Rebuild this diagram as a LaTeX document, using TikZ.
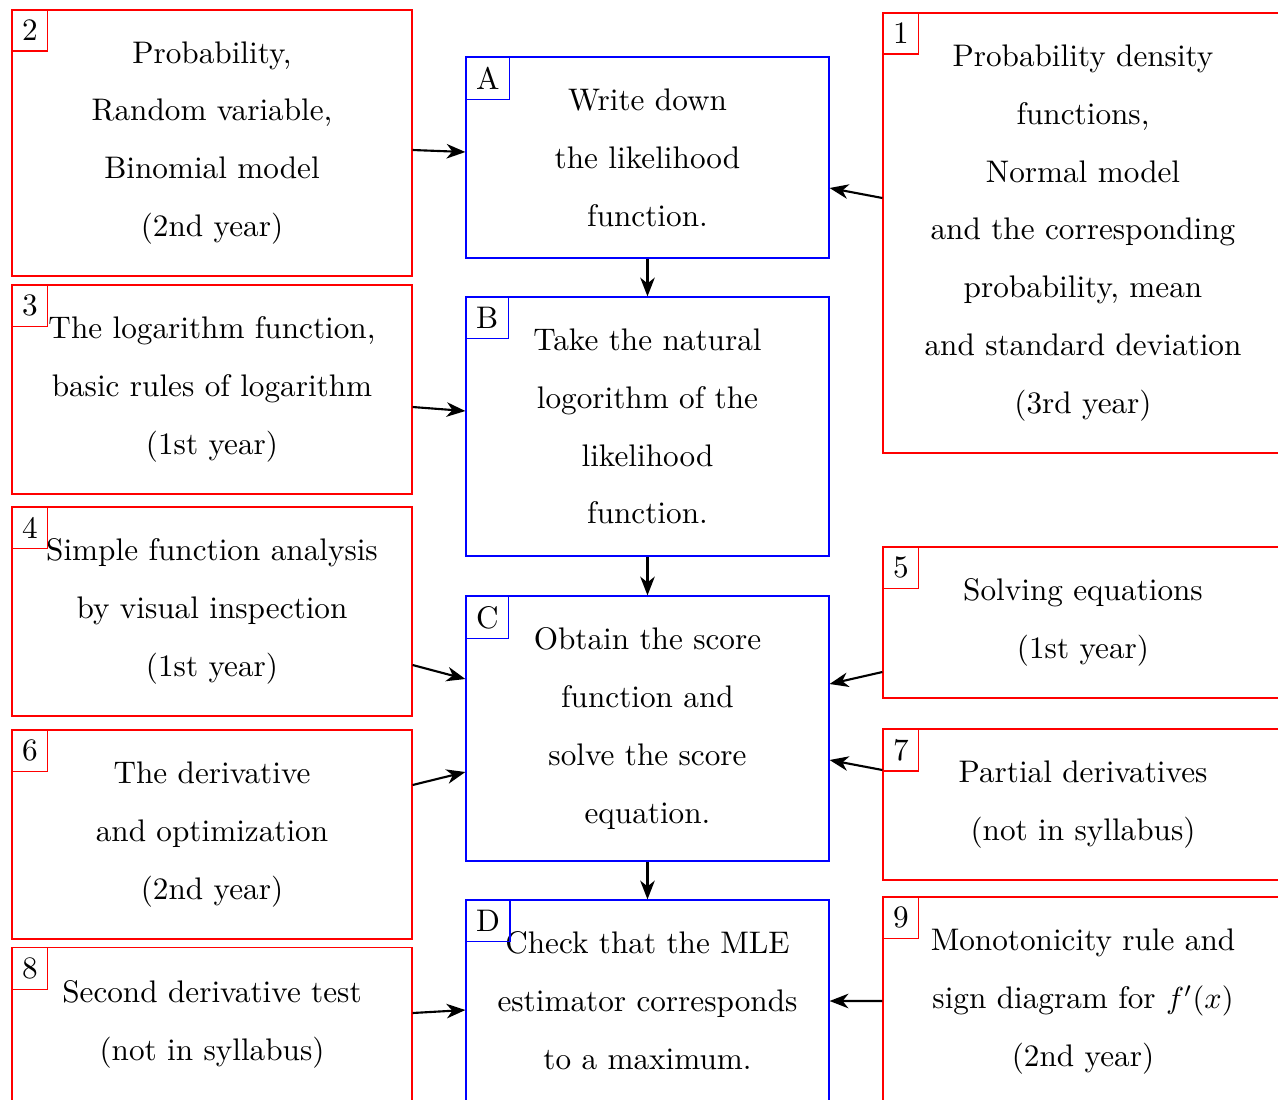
\documentclass[tikz,border=0pt]{standalone}
\usetikzlibrary{arrows.meta,calc}
\newdimen\upx \upx=0.33pt
\begin{document}
\begin{tikzpicture}[x=0.33pt, y=-0.33pt,
  boxtext/.style={align=center, inner sep=0pt, font=\fontsize{10.3}{19.1}\selectfont},
  prereq/.style={boxtext, draw=red, text width=390\upx, minimum width=400\upx},
  stepbox/.style={boxtext, draw=blue, text width=355\upx, minimum width=363\upx},
  tag/.style={draw, anchor=north west, inner sep=3.33pt, font=\fontsize{10.3}{12}\selectfont},
  conn/.style={line width=0.7pt, -{Stealth[length=6.2pt, width=4.8pt, inset=1.9pt]}}]

\useasboundingbox (0,0) rectangle (1278,1099);
\fill[white] (0,0) rectangle (1278,1099);

% left column: prerequisites
\node[prereq, minimum height=266\upx] (p2) at (212,143)
  {Probability,\\Random variable,\\Binomial model\\(2nd year)};
\node[prereq, minimum height=209\upx] (p3) at (212,389.5)
  {The logarithm function,\\basic rules of logarithm\\(1st year)};
\node[prereq, minimum height=209\upx] (p4) at (212,611.5)
  {Simple function analysis\\by visual inspection\\(1st year)};
\node[prereq, minimum height=209\upx] (p6) at (212,834.5)
  {The derivative\\and optimization\\(2nd year)};
\node[prereq, minimum height=154\upx] (p8) at (212,1024.5)
  {Second derivative test\\(not in syllabus)};

% middle column: the steps
\node[stepbox, minimum height=201\upx] (A) at (647.5,157.5)
  {Write down\\the likelihood\\function.};
\node[stepbox, minimum height=259\upx] (B) at (647.5,426.5)
  {Take the natural\\logorithm of the\\likelihood\\function.};
\node[stepbox, minimum height=265\upx] (C) at (647.5,728.5)
  {Obtain the score\\function and\\solve the score\\equation.};
\node[stepbox, minimum height=201\upx] (D) at (647.5,1000.5)
  {Check that the MLE\\estimator corresponds\\to a maximum.};

% right column: prerequisites
\node[prereq, minimum height=440\upx] (p1) at (1083,233)
  {Probability density\\functions,\\Normal model\\and the corresponding\\probability, mean\\and standard deviation\\(3rd year)};
\node[prereq, minimum height=151\upx] (p5) at (1083,622.5)
  {Solving equations\\(1st year)};
\node[prereq, minimum height=151\upx] (p7) at (1083,804.5)
  {Partial derivatives\\(not in syllabus)};
\node[prereq, minimum height=209\upx] (p9) at (1083,1001.5)
  {Monotonicity rule and\\sign diagram for $f'(x)$\\(2nd year)};

% corner tags
\foreach \n/\t in {p1/1,p2/2,p3/3,p4/4,p5/5,p6/6,p7/7,p8/8,p9/9}
  \node[tag, draw=red] (t\t) at (\n.north west) {\t};
\foreach \n in {A,B,C,D}
  \node[tag, draw=blue] (t\n) at (\n.north west) {\n};

% connectors
\draw[conn] (A) -- (B);
\draw[conn] (B) -- (C);
\draw[conn] (C) -- (D);
\draw[conn] ($(p2.east)+(0,7)$) -- ($(A.west)+(0,-5.5)$);
\draw[conn] ($(p1.west)+(0,-35)$) -- ($(A.east)+(0,30.5)$);
\draw[conn] ($(p3.east)+(0,17.5)$) -- ($(B.west)+(0,-15.5)$);
\draw[conn] ($(p4.east)+(0,53.5)$) -- ($(C.west)+(0,-49.5)$);
\draw[conn] ($(p6.east)+(0,-49.5)$) -- ($(C.west)+(0,43.5)$);
\draw[conn] ($(p5.west)+(0,49.5)$) -- ($(C.east)+(0,-44.5)$);
\draw[conn] ($(p7.west)+(0,-34.5)$) -- ($(C.east)+(0,31.5)$);
\draw[conn] ($(p8.east)+(0,-11.5)$) -- ($(D.west)+(0,9.5)$);
\draw[conn] ($(p9.west)+(0,-0.5)$) -- ($(D.east)+(0,0.5)$);
\end{tikzpicture}
\end{document}
